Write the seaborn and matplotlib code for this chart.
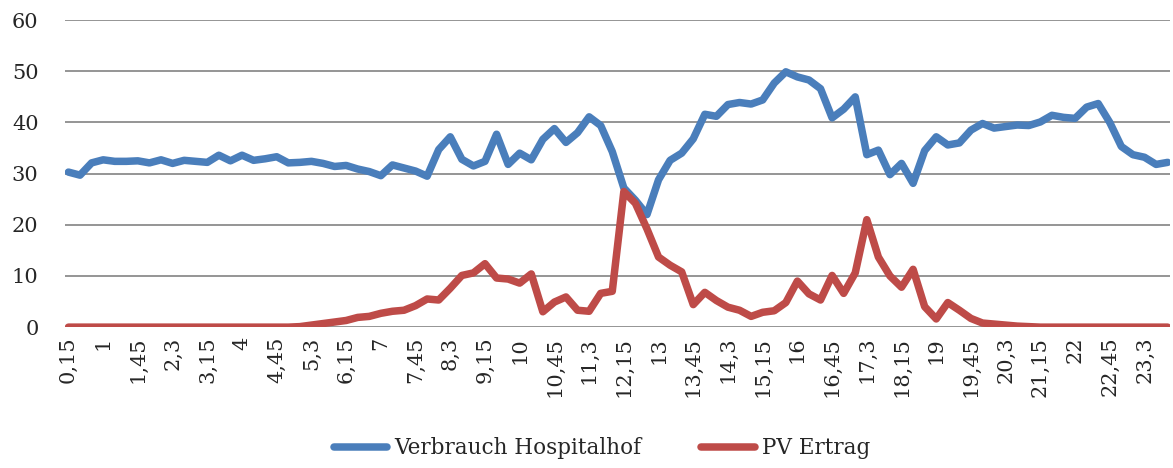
import numpy as np
import pandas as pd
import matplotlib
matplotlib.use("Agg")
import matplotlib.pyplot as plt
import seaborn as sns

# 15-minute intervals, labelled like the original sheet (0,15 ... 24)
minute_text = {15: "15", 30: "3", 45: "45"}
times = []
for k in range(1, 97):
    h, m = divmod(k * 15, 60)
    times.append(f"{h}" if m == 0 else f"{h},{minute_text[m]}")

verbrauch = [30.3, 29.7, 32.1, 32.7, 32.4, 32.4, 32.5, 32.1, 32.7, 32.0,
             32.6, 32.4, 32.2, 33.6, 32.5, 33.6, 32.6, 32.9, 33.3, 32.1,
             32.2, 32.4, 32.0, 31.4, 31.6, 30.9, 30.4, 29.6, 31.7, 31.1,
             30.5, 29.5, 34.7, 37.2, 32.8, 31.5, 32.4, 37.7, 31.8, 34.0,
             32.7, 36.7, 38.8, 36.1, 38.0, 41.1, 39.4, 34.3, 27.2, 24.8,
             22.0, 28.8, 32.6, 34.0, 36.8, 41.6, 41.2, 43.5, 43.9, 43.6,
             44.4, 47.7, 49.9, 48.9, 48.3, 46.6, 40.9, 42.6, 45.0, 33.7,
             34.6, 29.8, 32.0, 28.1, 34.5, 37.2, 35.6, 36.0, 38.5, 39.8,
             38.9, 39.2, 39.5, 39.4, 40.1, 41.4, 41.0, 40.8, 43.0, 43.7,
             40.0, 35.3, 33.7, 33.2, 31.8, 32.2]

pv_ertrag = [0, 0, 0, 0, 0, 0, 0, 0, 0, 0,
             0, 0, 0, 0, 0, 0, 0, 0, 0, 0,
             0.1, 0.4, 0.7, 1.0, 1.3, 1.9, 2.1, 2.7, 3.1, 3.3,
             4.2, 5.5, 5.3, 7.6, 10.1, 10.6, 12.4, 9.6, 9.4, 8.6,
             10.4, 3.0, 4.9, 5.9, 3.3, 3.1, 6.6, 7.0, 26.5, 24.2,
             19.2, 13.7, 12.1, 10.8, 4.4, 6.8, 5.2, 3.9, 3.3, 2.1,
             2.9, 3.2, 4.8, 9.0, 6.5, 5.3, 10.1, 6.6, 10.6, 21.0,
             13.7, 10.0, 7.8, 11.3, 4.0, 1.6, 4.8, 3.3, 1.7, 0.8,
             0.6, 0.4, 0.2, 0.1, 0, 0, 0, 0, 0, 0,
             0, 0, 0, 0, 0, 0]

series_names = ["Verbrauch Hospitalhof", "PV Ertrag"]
colors = ["#4A7EBB", "#BE4B48"]

n = len(times)
df = pd.DataFrame({
    "idx": list(range(n)) * 2,
    "wert": verbrauch + pv_ertrag,
    "serie": [series_names[0]] * n + [series_names[1]] * n,
})

sns.set_style("white")
plt.rcParams["font.family"] = ["DejaVu Serif"]

fig = plt.figure(figsize=(11.73, 4.68), dpi=100)
ax = fig.add_axes([0.0554, 0.301, 0.942, 0.656])

sns.lineplot(data=df, x="idx", y="wert", hue="serie", palette=colors,
             linewidth=5.4, ax=ax, legend=True, solid_capstyle="round",
             solid_joinstyle="round")

ax.set_ylim(0, 60)
ax.set_yticks(range(0, 61, 10))
ax.set_xlim(-0.3, n - 0.8)
ax.set_xticks(range(0, n, 3))
ax.set_xticklabels([times[i] for i in range(0, n, 3)], rotation=90,
                   fontsize=15, va="top", ha="center")
ax.tick_params(axis="y", labelsize=15, length=0, pad=19)
ax.tick_params(axis="x", length=0, pad=7)
ax.yaxis.grid(True, color="#8C8C8C", linewidth=1.3)
ax.set_axisbelow(True)
for s in ax.spines.values():
    s.set_visible(False)
ax.set_xlabel("")
ax.set_ylabel("")

handles, labels = ax.get_legend_handles_labels()
ax.legend_.remove()
fig.legend(handles, labels, loc="center", bbox_to_anchor=(0.513, 0.042),
           ncol=2, frameon=False, fontsize=15.5, handlelength=2.5,
           columnspacing=2.8, handletextpad=0.3)

fig.savefig("out.png", dpi=100)
